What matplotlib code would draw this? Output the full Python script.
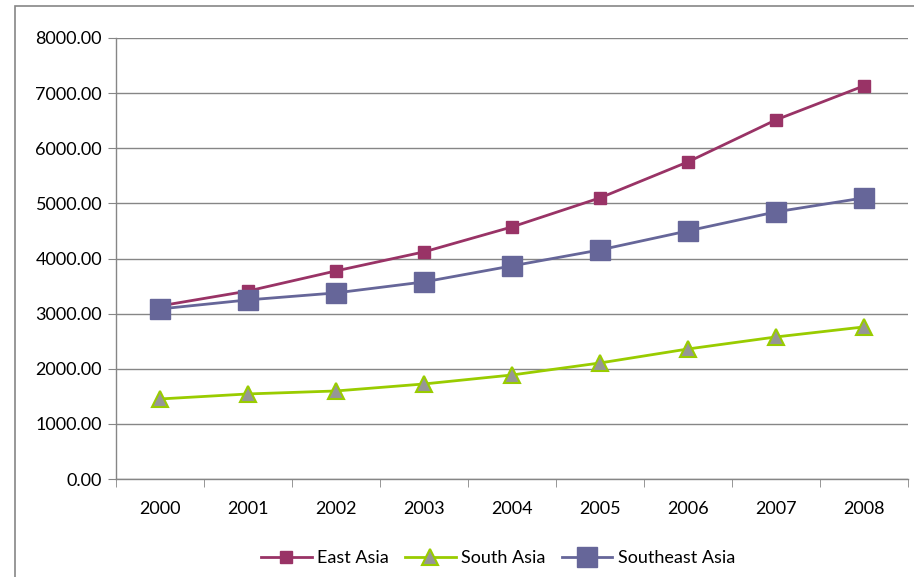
import matplotlib.pyplot as plt
import matplotlib.patches as ptch

plt.rcParams['font.family'] = ['Lato', 'DejaVu Sans']

years = ['2000', '2001', '2002', '2003', '2004', '2005', '2006', '2007', '2008']
east_asia = [3140, 3410, 3775, 4120, 4573, 5100, 5753, 6515, 7132]
south_asia = [1452, 1543, 1597, 1724, 1887, 2105, 2359, 2577, 2759]
southeast_asia = [3085, 3249, 3376, 3575, 3866, 4156, 4501, 4846, 5100]

fig = plt.figure(figsize=(9.14, 5.77), dpi=100)
ax = fig.add_axes([116/914, 1 - 479/577, 792/914, 441/577])

x = list(range(len(years)))
ax.plot(x, east_asia, color='#993366', linewidth=2, marker='s', markersize=8.5,
        markerfacecolor='#993366', markeredgecolor='#993366', label='East Asia', zorder=3)
ax.plot(x, south_asia, color='#99CC00', linewidth=2, marker='^', markersize=11,
        markerfacecolor='#969696', markeredgecolor='#99CC00', markeredgewidth=1.5,
        label='South Asia', zorder=3)
ax.plot(x, southeast_asia, color='#666699', linewidth=2, marker='s', markersize=14,
        markerfacecolor='#666699', markeredgecolor='#666699', label='Southeast Asia', zorder=3)

ax.set_xlim(-0.5, len(years) - 0.5)
ax.set_ylim(0, 8000)
ax.set_yticks(range(0, 8001, 1000))
ax.set_yticklabels(['%.2f' % v for v in range(0, 8001, 1000)])
ax.set_xticks(x)
ax.set_xticklabels(years)
ax.set_xticks([i - 0.5 for i in range(len(years) + 1)], minor=True)
ax.tick_params(axis='x', which='major', length=0, pad=16, labelsize=13)
ax.tick_params(axis='x', which='minor', length=6, color='#868686', direction='out')
ax.tick_params(axis='y', length=6, color='#868686', direction='out', pad=4, labelsize=13)

ax.grid(axis='y', color='#868686', linewidth=1)
ax.set_axisbelow(True)
for s in ['top', 'right']:
    ax.spines[s].set_visible(False)
for s in ['left', 'bottom']:
    ax.spines[s].set_color('#868686')
    ax.spines[s].set_linewidth(1)

fig.legend(loc='center', bbox_to_anchor=(498/914, 1 - 558/577), ncol=3, frameon=False,
           fontsize=13, handlelength=2.8, columnspacing=0.9, handletextpad=0.3)

# outer chart border
border = ptch.Rectangle((15/914, -0.1), 1.2, 1 - 6/577 + 0.1, transform=fig.transFigure,
                        fill=False, edgecolor='#868686', linewidth=1.2, clip_on=False)
fig.patches.append(border)

fig.savefig('out.png', dpi=100)
